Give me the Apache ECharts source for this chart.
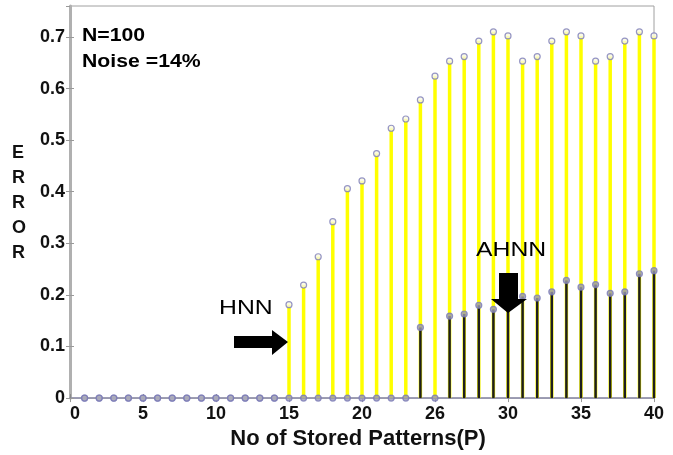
<!DOCTYPE html>
<html>
<head>
<meta charset="utf-8">
<script src="https://cdn.jsdelivr.net/npm/echarts@6/dist/echarts.min.js"></script>
<style>
  html, body { margin: 0; padding: 0; background: #fff; }
  #chart { width: 673px; height: 455px; }
</style>
</head>
<body>
<div id="chart"></div>
<script>
// number of stored patterns
const patterns = [1, 2, 3, 4, 5, 6, 7, 8, 9, 10, 11, 12, 13, 14, 15, 16, 17, 18, 19, 20,
  21, 22, 23, 24, 25, 26, 27, 28, 29, 30, 31, 32, 33, 34, 35, 36, 37, 38, 39, 40];
// error of plain hopfield net
const hnnError = [0, 0, 0, 0, 0, 0, 0, 0, 0, 0, 0, 0, 0, 0, 0.181, 0.219, 0.274, 0.342, 0.406, 0.421,
  0.474, 0.523, 0.541, 0.578, 0.624, 0.653, 0.662, 0.692, 0.710, 0.702,
  0.653, 0.662, 0.692, 0.710, 0.702, 0.653, 0.662, 0.692, 0.710, 0.702];
// error of AHNN
const ahnnError = [0, 0, 0, 0, 0, 0, 0, 0, 0, 0, 0, 0, 0, 0, 0, 0, 0, 0, 0, 0,
  0, 0, 0, 0.137, 0, 0.159, 0.163, 0.180, 0.172, 0.188,
  0.197, 0.194, 0.206, 0.228, 0.215, 0.220, 0.203, 0.206, 0.241, 0.247];
// tick labels as printed (25 is labelled 26 in the original)
const xTickLabels = ['0', '5', '10', '15', '20', '26', '30', '35', '40'];

const font = '"Liberation Sans", Arial, sans-serif';
const chart = echarts.init(document.getElementById('chart'));

function stems(name, values, color, width, z) {
  return {
    type: 'custom',
    name: name,
    z: z,
    data: patterns.map((p, i) => [p, values[i]]),
    renderItem: function (params, api) {
      const v = api.value(1);
      if (!v) return null;
      const a = api.coord([api.value(0), 0]);
      const b = api.coord([api.value(0), v]);
      return {
        type: 'line',
        shape: { x1: a[0], y1: a[1], x2: b[0], y2: b[1] },
        style: { stroke: color, lineWidth: width }
      };
    }
  };
}

function heads(name, values, fill, z) {
  return {
    type: 'scatter',
    name: name,
    z: z,
    symbol: 'circle',
    symbolSize: 6,
    itemStyle: { color: fill, borderColor: '#7a7ab8', borderWidth: 1.2 },
    data: patterns.map((p, i) => [p, values[i]])
  };
}

// stretched text like the original bitmap
function label(text, x, y, size, bold) {
  return {
    type: 'text', left: x, top: y, z: 100, scaleX: 1.18,
    style: { text: text, font: (bold ? 'bold ' : '') + size + 'px ' + font, fill: '#000' }
  };
}

chart.setOption({
  animation: false,
  backgroundColor: '#fff',
  grid: { left: 70, right: 19, top: 6, bottom: 53, show: true, borderColor: '#a0a0a0', borderWidth: 1 },
  xAxis: [{
    type: 'value', min: 0, max: 40, interval: 5,
    name: 'No of Stored Patterns(P)', nameLocation: 'middle', nameGap: 26,
    nameTextStyle: { fontFamily: font, fontWeight: 'bold', fontSize: 22, color: '#111', padding: [0, 8, 0, 0] },
    axisLine: { lineStyle: { color: '#8a8aa8', width: 1.5 } },
    axisTick: { inside: true, length: 4, lineStyle: { color: '#888' } },
    axisLabel: { fontFamily: font, fontWeight: 'bold', fontSize: 18, color: '#111', margin: 7,
      alignMinLabel: 'left', formatter: v => xTickLabels[v / 5] },
    splitLine: { show: false }
  }, {
    type: 'value', min: 0, max: 40, interval: 5, position: 'top',
    axisLine: { show: false },
    axisTick: { inside: true, length: 4, lineStyle: { color: '#999' } },
    axisLabel: { show: false }, splitLine: { show: false }
  }],
  yAxis: [{
    type: 'value', min: 0, max: 0.76, interval: 0.1,
    axisLine: { show: true, lineStyle: { color: '#a0a0a0' } },
    axisTick: { inside: true, length: 4, lineStyle: { color: '#999' } },
    axisLabel: { fontFamily: font, fontWeight: 'bold', fontSize: 18, color: '#111', margin: 5,
      formatter: v => (v === 0 ? '0' : v.toFixed(1)), showMaxLabel: false },
    splitLine: { show: false }
  }, {
    type: 'value', min: 0, max: 0.76, interval: 0.1, position: 'right',
    axisLine: { show: true, lineStyle: { color: '#b0b0b0', width: 3 } },
    axisTick: { inside: true, length: 4, lineStyle: { color: '#999' } },
    axisLabel: { show: false }, splitLine: { show: false }
  }],
  graphic: [
    // vertical y axis title
    { type: 'text', left: 12, top: 141, z: 100,
      style: { text: 'E\nR\nR\nO\nR', font: 'bold 18px ' + font, lineHeight: 25, align: 'center', fill: '#111' } },
    label('N=100', 82, 27, 18, true),
    label('Noise =14%', 82, 53, 18, true),
    label('HNN', 219, 298, 21, false),
    label('AHNN', 476, 240, 21, false),
    { type: 'polygon', z: 100, shape: { points: [[234, 336], [272, 336], [272, 330], [288, 342], [272, 355], [272, 348], [234, 348]] },
      style: { fill: '#000' } },
    { type: 'polygon', z: 100, shape: { points: [[499, 273], [518, 273], [518, 299], [527, 299], [508, 313], [491, 299], [499, 299]] },
      style: { fill: '#000' } }
  ],
  series: [
    stems('HNN', hnnError, '#ffff00', 3.5, 2),
    stems('AHNN', ahnnError, '#1e1e1e', 2.5, 3),
    heads('HNN', hnnError, '#fafae0', 4),
    heads('AHNN', ahnnError, '#9a9ab0', 5)
  ]
});
</script>
</body>
</html>
